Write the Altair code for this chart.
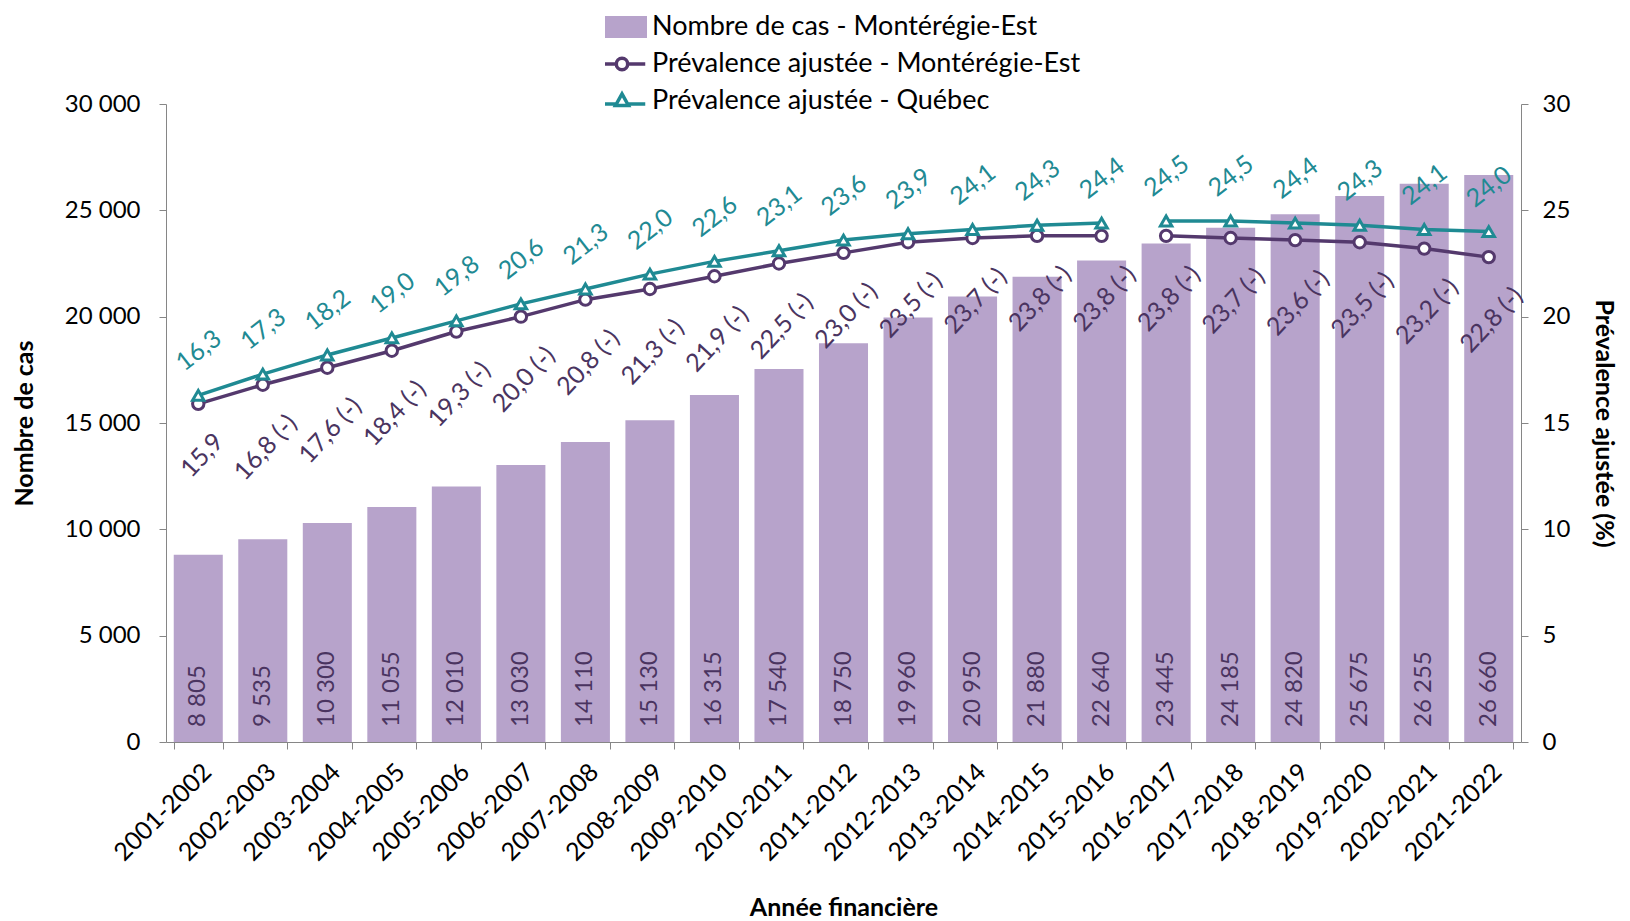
import altair as alt
import pandas as pd

years = ["2001-2002", "2002-2003", "2003-2004", "2004-2005", "2005-2006", "2006-2007",
         "2007-2008", "2008-2009", "2009-2010", "2010-2011", "2011-2012", "2012-2013",
         "2013-2014", "2014-2015", "2015-2016", "2016-2017", "2017-2018", "2018-2019",
         "2019-2020", "2020-2021", "2021-2022"]
cases = [8805, 9535, 10300, 11055, 12010, 13030, 14110, 15130, 16315, 17540, 18750,
         19960, 20950, 21880, 22640, 23445, 24185, 24820, 25675, 26255, 26660]
prev_me = [15.9, 16.8, 17.6, 18.4, 19.3, 20.0, 20.8, 21.3, 21.9, 22.5, 23.0, 23.5,
           23.7, 23.8, 23.8, 23.8, 23.7, 23.6, 23.5, 23.2, 22.8]
flag_me = [""] + [" (-)"] * 20
prev_qc = [16.3, 17.3, 18.2, 19.0, 19.8, 20.6, 21.3, 22.0, 22.6, 23.1, 23.6, 23.9,
           24.1, 24.3, 24.4, 24.5, 24.5, 24.4, 24.3, 24.1, 24.0]
segment = [0] * 15 + [1] * 6

S_BAR = "Nombre de cas - Montérégie-Est"
S_ME = "Prévalence ajustée - Montérégie-Est"
S_QC = "Prévalence ajustée - Québec"
series_names = [S_BAR, S_ME, S_QC]

BAR_C = "#B7A3CB"
ME_C = "#54396D"
QC_C = "#1F8A93"
TXT_C = "#4A3460"
FONT = "Lato"


def fr(v):
    return f"{v:.1f}".replace(".", ",")


bars_df = pd.DataFrame({
    "year": years,
    "cases": cases,
    "series": S_BAR,
    "lab": [f"{c:,}".replace(",", " ") for c in cases],
})

rows = []
for i, y in enumerate(years):
    rows.append({"year": y, "prev": prev_me[i], "series": S_ME, "seg": segment[i],
                 "flag": flag_me[i], "lab": fr(prev_me[i]) + flag_me[i]})
    rows.append({"year": y, "prev": prev_qc[i], "series": S_QC, "seg": segment[i],
                 "flag": "", "lab": fr(prev_qc[i])})
lines_df = pd.DataFrame(rows)

x_enc = alt.X("year:N", sort=years, title="Année financière",
              scale=alt.Scale(paddingInner=0.24, paddingOuter=0.12),
              axis=alt.Axis(labelAngle=-45, labelAlign="right", labelBaseline="top",
                            labelFontSize=25, labelColor="#000000", labelPadding=10,
                            tickBand="extent", tickSize=7, tickColor="#868686",
                            domainColor="#868686", titleFontSize=25, titleFontWeight="bold",
                            titlePadding=30, titleColor="#000000", labelFont=FONT, titleFont=FONT))
x_plain = alt.X("year:N", sort=years)

P_BAR = "M-1.55,-0.62L1.55,-0.62L1.55,0.62L-1.55,0.62Z"
P_ME = "M-1.55,0L-0.38,0M0.38,0L1.55,0M-0.38,0A0.38,0.38,0,1,1,0.38,0A0.38,0.38,0,1,1,-0.38,0Z"
P_QC = "M-1.55,0.2L-0.43,0.2M0.43,0.2L1.55,0.2M0,-0.47L0.43,0.3L-0.43,0.3Z"

legend = alt.Legend(
    orient="none", legendX=439, legendY=-94, direction="vertical", title="",
    labelFontSize=27, labelFont=FONT, labelColor="#000000", symbolSize=900,
    labelOffset=13, symbolStrokeWidth=3.5, labelLimit=700, rowPadding=3, padding=0,
    clipHeight=34, symbolOpacity=1,
)

y_cases = alt.Y("cases:Q", title="Nombre de cas",
                scale=alt.Scale(domain=[0, 30000], nice=False),
                axis=alt.Axis(values=[0, 5000, 10000, 15000, 20000, 25000, 30000],
                              labelExpr="replace(format(datum.value, ','), ',', ' ')",
                              grid=False, labelFontSize=24, labelColor="#000000", labelFont=FONT,
                              tickSize=7, tickColor="#868686", domainColor="#868686",
                              titleFontSize=25, titleFontWeight="bold", titleFont=FONT,
                              titleColor="#000000", titlePadding=27, labelPadding=19))

bar = alt.Chart(bars_df).mark_bar(color=BAR_C).encode(x=x_enc, y=y_cases)

bar_text = alt.Chart(bars_df).mark_text(
    angle=270, align="left", baseline="middle", dx=15, fontSize=24, font=FONT, color=TXT_C
).encode(
    x=x_plain,
    y=alt.datum(0),
    text="lab:N",
)

# legend-only layer: no rows drawn, the scales (explicit domains) carry the legend
leg = alt.Chart(bars_df).transform_filter("false").mark_point(
    filled=True, opacity=1, strokeWidth=3.5
).encode(
    x=x_plain,
    y=y_cases,
    fill=alt.Fill("series:N", scale=alt.Scale(domain=series_names,
                                              range=[BAR_C, "#ffffff", "#ffffff"]),
                  legend=legend),
    stroke=alt.Stroke("series:N", scale=alt.Scale(domain=series_names,
                                                  range=[BAR_C, ME_C, QC_C]),
                      legend=legend),
    shape=alt.Shape("series:N", scale=alt.Scale(domain=series_names,
                                                range=[P_BAR, P_ME, P_QC]),
                    legend=legend),
)

left = alt.layer(bar, bar_text, leg)

y_prev = alt.Y("prev:Q", title="Prévalence ajustée (%)",
               scale=alt.Scale(domain=[0, 30], nice=False),
               axis=alt.Axis(orient="right", values=[0, 5, 10, 15, 20, 25, 30], grid=False,
                             labelFontSize=24, labelColor="#000000", labelFont=FONT,
                             tickSize=7, tickColor="#868686", domainColor="#868686",
                             titleFontSize=25, titleFontWeight="bold", titleFont=FONT,
                             titleColor="#000000", titlePadding=21, labelPadding=14))

line = alt.Chart(lines_df).mark_line(strokeWidth=3.5).encode(
    x=x_plain,
    y=y_prev,
    color=alt.Color("series:N", scale=alt.Scale(domain=[S_ME, S_QC], range=[ME_C, QC_C]),
                    legend=None),
    detail="seg:N",
)

pts_me = alt.Chart(lines_df).transform_filter(alt.datum.series == S_ME).mark_point(
    shape="circle", filled=False, fill="white", size=130, strokeWidth=3, opacity=1, color=ME_C
).encode(x=x_plain, y=y_prev)

pts_qc = alt.Chart(lines_df).transform_filter(alt.datum.series == S_QC).mark_point(
    shape="triangle-up", filled=False, fill="white", size=130, strokeWidth=3, opacity=1,
    color=QC_C
).encode(x=x_plain, y=y_prev)

lab_me_long = alt.Chart(lines_df).transform_filter(
    (alt.datum.series == S_ME) & (alt.datum.flag != "")
).mark_text(
    angle=313, align="center", baseline="middle", dx=-44, dy=45, fontSize=25, font=FONT,
    color=TXT_C
).encode(x=x_plain, y=y_prev, text="lab:N")

lab_me_short = alt.Chart(lines_df).transform_filter(
    (alt.datum.series == S_ME) & (alt.datum.flag == "")
).mark_text(
    angle=313, align="center", baseline="middle", dx=-35, dy=38, fontSize=25, font=FONT,
    color=TXT_C
).encode(x=x_plain, y=y_prev, text="lab:N")

lab_qc = alt.Chart(lines_df).transform_filter(alt.datum.series == S_QC).mark_text(
    angle=322, align="center", baseline="middle", dx=28, dy=-35, fontSize=25, font=FONT,
    color=QC_C
).encode(x=x_plain, y=y_prev, text="lab:N")

right = alt.layer(line, pts_me, pts_qc, lab_me_long, lab_me_short, lab_qc)

chart = alt.layer(left, right).resolve_scale(y="independent", color="independent").properties(
    width=1355, height=638, padding={"left": 4, "top": 2, "right": 4, "bottom": 0}
).configure_view(stroke=None)

chart.save("out.html", embed_options={"renderer": "svg", "actions": False})
